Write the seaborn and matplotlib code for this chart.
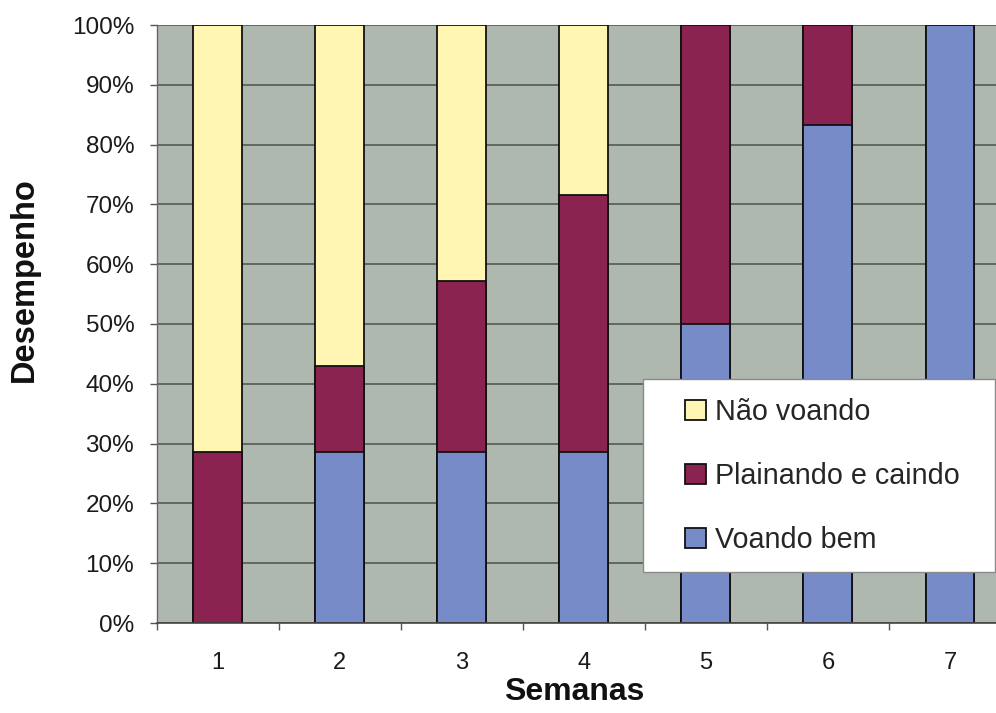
import numpy as np
import pandas as pd
import matplotlib
matplotlib.use("Agg")
import matplotlib.pyplot as plt
from matplotlib.patches import Patch, Rectangle
import seaborn as sns

# Weekly flight performance (% of birds in each category)
semanas = ["1", "2", "3", "4", "5", "6", "7"]
voando_bem = [0.0, 28.6, 28.6, 28.6, 50.0, 83.3, 100.0]
plainando_caindo = [28.6, 14.3, 28.6, 42.9, 50.0, 16.7, 0.0]
nao_voando = [71.4, 57.1, 42.8, 28.5, 0.0, 0.0, 0.0]

categorias = ["Não voando", "Plainando e caindo", "Voando bem"]
cores = {"Não voando": "#FFF6B4", "Plainando e caindo": "#8A2350", "Voando bem": "#788BC9"}

sns.set_style("white")
plt.rcParams["font.family"] = ["Liberation Sans", "DejaVu Sans"]

# Cumulative tops so the stacked segments can be layered back to front
vb = np.array(voando_bem)
pc = vb + np.array(plainando_caindo)
nv = pc + np.array(nao_voando)
df = pd.concat([
    pd.DataFrame({"semana": semanas, "topo": nv, "grupo": "Não voando"}),
    pd.DataFrame({"semana": semanas, "topo": pc, "grupo": "Plainando e caindo"}),
    pd.DataFrame({"semana": semanas, "topo": vb, "grupo": "Voando bem"}),
])

fig = plt.figure(figsize=(9.96, 7.13), dpi=100)
ax = fig.add_axes([156.5 / 996, 90 / 713, 854.5 / 996, 598 / 713])
ax.set_facecolor("#AFB8AF")
ax.set_axisbelow(True)

sns.barplot(data=df, x="semana", y="topo", hue="grupo", hue_order=categorias,
            order=semanas, palette=cores, dodge=False, width=0.4,
            edgecolor="#111111", linewidth=1.3, errorbar=None, legend=False,
            saturation=1, ax=ax)

ax.set_xlim(-0.5, 6.5)
ax.set_ylim(0, 100)
ax.set_yticks(np.arange(0, 101, 10))
ax.set_yticklabels([f"{v}%" for v in range(0, 101, 10)])
ax.yaxis.grid(True, color="#4E524E", linewidth=1.1)
ax.xaxis.grid(False)

ax.set_xticks(np.arange(-0.5, 7, 1), minor=True)
ax.tick_params(axis="x", which="major", length=0, pad=21, labelsize=17, labelcolor="#1a1a1a")
ax.tick_params(axis="x", which="minor", length=5, width=1, color="#555555", direction="out", bottom=True)
ax.tick_params(axis="y", length=5, width=1, color="#555555", direction="out", left=True,
               pad=11, labelsize=17.5, labelcolor="#1a1a1a")

for s in ["top", "right"]:
    ax.spines[s].set_visible(False)
ax.spines["left"].set_color("#666666")
ax.spines["bottom"].set_color("#444444")
ax.spines["left"].set_linewidth(1)
ax.spines["bottom"].set_linewidth(1.2)

ax.set_xlabel("Semanas", fontsize=23, fontweight="bold", color="#111111")
ax.set_ylabel("Desempenho", fontsize=23.5, fontweight="bold", color="#111111")
ax.xaxis.set_label_coords((574.5 - 156.5) / 854.5, (623 - 677) / 598)
ax.yaxis.set_label_coords((40 - 156.5) / 854.5, (623 - 280) / 598)

# Legend box with white background
fig.patches.append(Rectangle((643 / 996, 1 - 572 / 713), (995 - 643) / 996, (572 - 379) / 713,
                             transform=fig.transFigure, facecolor="white",
                             edgecolor="#8a8a8a", linewidth=1, zorder=3))
handles = [Patch(facecolor=cores[c], edgecolor="#111111", linewidth=1.3, label=c) for c in categorias]
fig.legend(handles=handles, loc="center left", bbox_to_anchor=(685 / 996, 1 - 476 / 713),
           bbox_transform=fig.transFigure, frameon=False, fontsize=20.7,
           borderpad=0, borderaxespad=0, handlelength=0.72, handleheight=0.72,
           handletextpad=0.33, labelspacing=1.25)

fig.savefig("out.png", dpi=100)
